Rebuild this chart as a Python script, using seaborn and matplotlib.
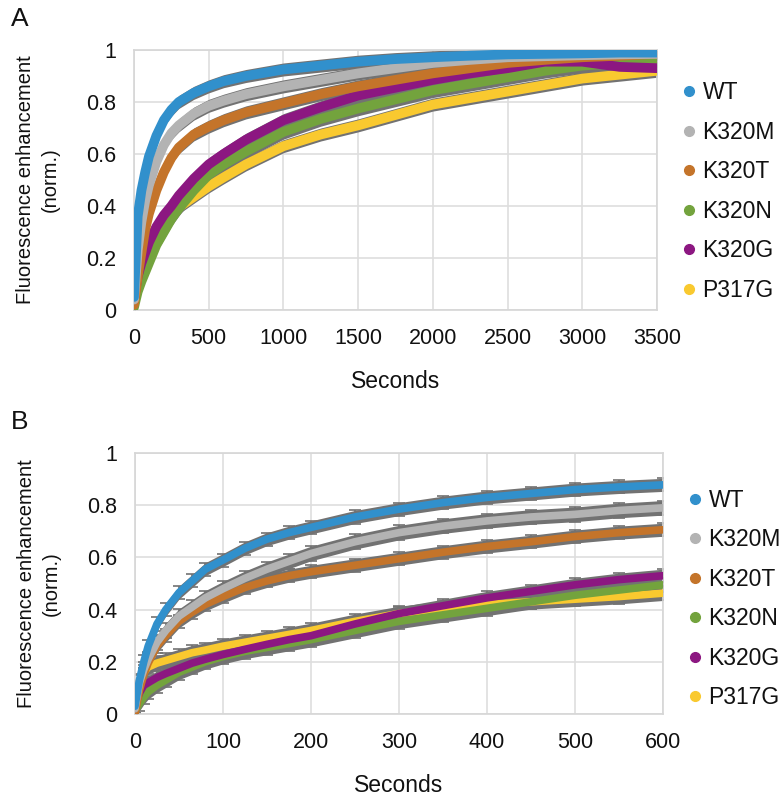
import pandas as pd
import matplotlib.pyplot as plt
import seaborn as sns
from matplotlib.lines import Line2D

# ---- data ----
series = ["WT", "K320M", "K320T", "K320N", "K320G", "P317G"]
colors = ["#3190cc", "#b3b3b3", "#c4742a", "#73a33d", "#8c1781", "#f9c92f"]
# draw order (bottom to top) as in the picture
draw_order = ["P317G", "K320N", "K320G", "K320T", "K320M", "WT"]

# panel A, 0-3500 s
t_a = [0, 25, 50, 75, 100, 150, 200, 250, 300, 400, 500, 600, 750, 1000,
       1250, 1500, 1750, 2000, 2250, 2500, 2750, 3000, 3250, 3500]
a_wt = [0.05, 0.36, 0.46, 0.53, 0.59, 0.67, 0.73, 0.77, 0.80, 0.835, 0.86, 0.88,
        0.90, 0.925, 0.94, 0.955, 0.965, 0.972, 0.978, 0.983, 0.985, 0.987, 0.99, 0.99]
a_k320m = [0.04, 0.23, 0.34, 0.42, 0.48, 0.57, 0.635, 0.68, 0.71, 0.755, 0.785, 0.805,
           0.83, 0.86, 0.885, 0.91, 0.93, 0.95, 0.962, 0.972, 0.976, 0.98, 0.983, 0.985]
a_k320t = [0.02, 0.13, 0.22, 0.31, 0.37, 0.46, 0.53, 0.585, 0.625, 0.675, 0.705, 0.73,
           0.76, 0.795, 0.83, 0.86, 0.885, 0.91, 0.93, 0.95, 0.962, 0.972, 0.978, 0.985]
a_k320n = [0.01, 0.07, 0.11, 0.145, 0.18, 0.25, 0.30, 0.35, 0.39, 0.46, 0.52, 0.56,
           0.61, 0.685, 0.735, 0.775, 0.81, 0.845, 0.87, 0.895, 0.92, 0.94, 0.95, 0.96]
a_k320g = [0.04, 0.13, 0.18, 0.22, 0.26, 0.32, 0.365, 0.40, 0.44, 0.505, 0.56, 0.60,
           0.655, 0.73, 0.78, 0.825, 0.855, 0.885, 0.91, 0.93, 0.955, 0.955, 0.935, 0.93]
a_p317g = [0.03, 0.17, 0.22, 0.25, 0.275, 0.315, 0.345, 0.37, 0.395, 0.435, 0.475, 0.51,
           0.56, 0.63, 0.675, 0.71, 0.75, 0.79, 0.815, 0.84, 0.865, 0.89, 0.905, 0.92]

# panel B, 0-600 s
t_b = [0, 5, 10, 15, 25, 35, 50, 65, 80, 100, 125, 150, 175, 200, 250, 300,
       350, 400, 450, 500, 550, 600]
b_wt = [0.03, 0.13, 0.20, 0.26, 0.345, 0.40, 0.465, 0.51, 0.555, 0.59, 0.635, 0.67,
        0.695, 0.715, 0.755, 0.785, 0.81, 0.83, 0.845, 0.86, 0.87, 0.878]
b_k320m = [0.02, 0.12, 0.17, 0.21, 0.275, 0.32, 0.375, 0.41, 0.445, 0.48, 0.52, 0.555,
           0.585, 0.615, 0.66, 0.695, 0.72, 0.74, 0.755, 0.765, 0.78, 0.79]
b_k320t = [0.0, 0.09, 0.15, 0.195, 0.26, 0.30, 0.355, 0.39, 0.42, 0.45, 0.485, 0.51,
           0.53, 0.545, 0.57, 0.595, 0.62, 0.642, 0.66, 0.68, 0.695, 0.706]
b_k320n = [0.01, 0.04, 0.065, 0.085, 0.11, 0.13, 0.16, 0.18, 0.20, 0.22, 0.24, 0.255,
           0.27, 0.285, 0.32, 0.355, 0.38, 0.405, 0.43, 0.455, 0.475, 0.495]
b_k320g = [0.03, 0.08, 0.11, 0.12, 0.14, 0.155, 0.175, 0.195, 0.21, 0.228, 0.248, 0.267,
           0.285, 0.30, 0.345, 0.385, 0.415, 0.445, 0.47, 0.495, 0.515, 0.53]
b_p317g = [0.03, 0.10, 0.16, 0.18, 0.195, 0.205, 0.22, 0.235, 0.245, 0.26, 0.275, 0.29,
           0.305, 0.32, 0.355, 0.385, 0.405, 0.42, 0.43, 0.44, 0.45, 0.463]

# error (+/-) per series
err_a = {"WT": 0.025, "K320M": 0.025, "K320T": 0.025, "K320N": 0.028, "K320G": 0.025, "P317G": 0.025}
err_b = {"WT": 0.025, "K320M": 0.028, "K320T": 0.025, "K320N": 0.028, "K320G": 0.025, "P317G": 0.028}

panel_a = dict(zip(series, [a_wt, a_k320m, a_k320t, a_k320n, a_k320g, a_p317g]))
panel_b = dict(zip(series, [b_wt, b_k320m, b_k320t, b_k320n, b_k320g, b_p317g]))


def long_df(t, vals):
    rows = []
    for name in series:
        for ti, vi in zip(t, vals[name]):
            rows.append({"t": ti, "v": vi, "series": name})
    return pd.DataFrame(rows)


sns.set_theme(style="whitegrid")
plt.rcParams['font.family'] = ['Liberation Sans', 'DejaVu Sans']

fig = plt.figure(figsize=(7.83, 8.01), dpi=100)
ax_a = fig.add_axes([0.1711, 0.613, 0.668, 0.3246])
ax_b = fig.add_axes([0.1724, 0.1086, 0.6743, 0.3258])

palette = dict(zip(series, colors))
err_gray = "#727272"
txt = "#111111"

for ax, t, vals, errs, xmax, xstep, letter, caps, lw, leg_y in [
        (ax_a, t_a, panel_a, err_a, 3500, 500, "A", False, 7, 0.455),
        (ax_b, t_b, panel_b, err_b, 600, 100, "B", True, 5.5, 0.44)]:
    df = long_df(t, vals)
    # error envelopes first
    for name in draw_order:
        y = vals[name]
        e = errs[name]
        ax.fill_between(t, [v - e for v in y], [v + e for v in y],
                        color=err_gray, lw=0, zorder=2)
        if caps:
            ax.errorbar(t, y, yerr=e, fmt="none", ecolor=err_gray,
                        elinewidth=1.2, capsize=4, capthick=1.2, zorder=2)
    for name in draw_order:
        sns.lineplot(data=df[df["series"] == name], x="t", y="v", color=palette[name],
                     linewidth=lw, ax=ax, zorder=3, legend=False,
                     solid_capstyle="round")
    ax.set_xlim(0, xmax)
    ax.set_ylim(0, 1)
    ax.set_xticks(range(0, xmax + 1, xstep))
    ax.set_yticks([0, 0.2, 0.4, 0.6, 0.8, 1])
    ax.set_yticklabels(["0", "0.2", "0.4", "0.6", "0.8", "1"])
    ax.tick_params(axis="both", labelsize=15.5, pad=13, length=0, colors=txt)
    ax.grid(True, color="#dedede", linewidth=1.2)
    for sp in ax.spines.values():
        sp.set_color("#d6d6d6")
        sp.set_linewidth(1.2)
    ax.set_xlabel("Seconds", fontsize=16.5, labelpad=15, color=txt)
    ax.set_ylabel("Fluorescence enhancement\n(norm.)", fontsize=14.5, labelpad=19,
                  color=txt, linespacing=1.35)
    ax.text(-0.235, 1.12, letter, transform=ax.transAxes, fontsize=19,
            color=txt, va="center", ha="left")
    handles = [Line2D([], [], marker="o", linestyle="none", markersize=7,
                      markerfacecolor=palette[n], markeredgecolor=palette[n])
               for n in series]
    ax.legend(handles, series, loc="center left", bbox_to_anchor=(1.03, leg_y),
              frameon=False, fontsize=16.5, handlelength=0.6, handletextpad=0.3,
              labelspacing=0.72, borderaxespad=0, labelcolor=txt)

fig.savefig("out.png", dpi=100, facecolor="white")
